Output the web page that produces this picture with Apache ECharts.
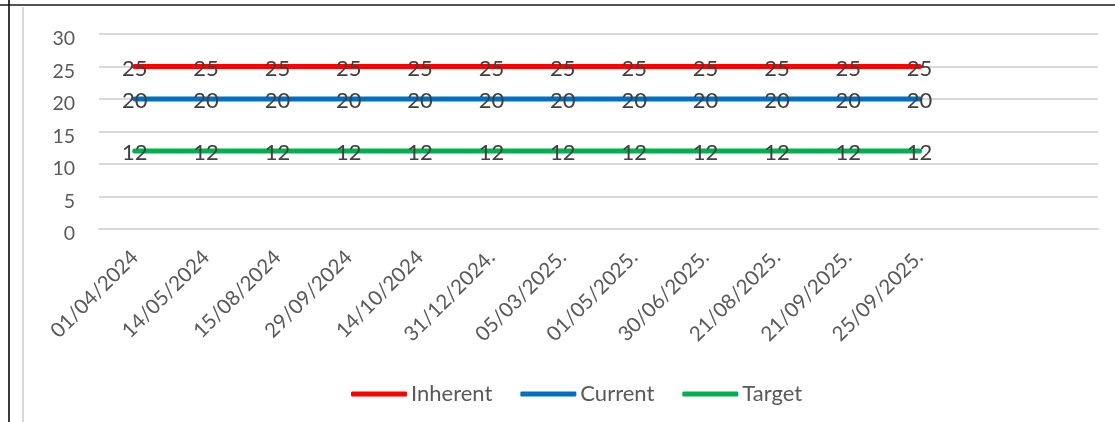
<!DOCTYPE html>
<html>
<head>
<meta charset="utf-8">
<script src="https://cdn.jsdelivr.net/npm/echarts@6/dist/echarts.min.js"></script>
<style>
  html, body { margin: 0; padding: 0; background: #fff; }
  #chart { width: 1115px; height: 422px; }
</style>
</head>
<body>
<div id="chart"></div>
<script>
// Review dates (two trailing empty slots keep the plot area wide)
const dates = ['01/04/2024', '14/05/2024', '15/08/2024', '29/09/2024', '14/10/2024',
  '31/12/2024.', '05/03/2025.', '01/05/2025.', '30/06/2025.', '21/08/2025.',
  '21/09/2025.', '25/09/2025.', '', ''];
const inherent = [25, 25, 25, 25, 25, 25, 25, 25, 25, 25, 25, 25];
const current  = [20, 20, 20, 20, 20, 20, 20, 20, 20, 20, 20, 20];
const target   = [12, 12, 12, 12, 12, 12, 12, 12, 12, 12, 12, 12];
const yTicks = { min: 0, max: 30, step: 5 };

const FONT = 'Lato';
const chart = echarts.init(document.getElementById('chart'), null, { renderer: 'canvas' });

function lineSeries(name, data, color) {
  return {
    name, type: 'line', data,
    symbol: 'circle', symbolSize: 0, showSymbol: true,
    lineStyle: { color, width: 5, cap: 'round' },
    itemStyle: { color },
    label: {
      show: true, position: 'inside', offset: [0, 2],
      color: '#404040', fontFamily: FONT, fontSize: 22
    },
    emphasis: { disabled: true },
    animation: false
  };
}

chart.setOption({
  animation: false,
  textStyle: { fontFamily: FONT },
  grid: { left: 99, right: 17, top: 34, bottom: 193, containLabel: false },
  xAxis: {
    type: 'category', data: dates, boundaryGap: true,
    axisLine: { show: true, lineStyle: { color: '#d9d9d9', width: 2 } },
    axisTick: { show: false },
    axisLabel: {
      rotate: 45, interval: 0, margin: 25,
      color: '#595959', fontFamily: FONT, fontSize: 20.5
    }
  },
  yAxis: {
    type: 'value', min: yTicks.min, max: yTicks.max, interval: yTicks.step,
    axisLine: { show: false }, axisTick: { show: false },
    axisLabel: {
      margin: 24, color: '#595959', fontFamily: FONT, fontSize: 19.5,
      verticalAlign: 'top', lineHeight: 10
    },
    splitLine: { lineStyle: { color: '#d9d9d9', width: 2 } }
  },
  legend: {
    bottom: 12, left: 346,
    itemWidth: 56, itemHeight: 5, itemGap: 28,
    icon: 'roundRect',
    textStyle: { color: '#595959', fontFamily: FONT, fontSize: 22, padding: [0, 0, 0, -1] },
    data: ['Inherent', 'Current', 'Target']
  },
  graphic: [
    { type: 'line', shape: { x1: 9, y1: 0, x2: 9, y2: 422 }, style: { stroke: '#3a3a3a', lineWidth: 2 } },
    { type: 'line', shape: { x1: 0, y1: 5, x2: 1115, y2: 5 }, style: { stroke: '#1a1a1a', lineWidth: 1.5 } },
    { type: 'line', shape: { x1: 23, y1: 7, x2: 23, y2: 422 }, style: { stroke: '#d9d9d9', lineWidth: 2 } }
  ],
  series: [
    lineSeries('Inherent', inherent, '#ff0000'),
    lineSeries('Current', current, '#0070c0'),
    lineSeries('Target', target, '#00b050')
  ]
});
</script>
</body>
</html>
